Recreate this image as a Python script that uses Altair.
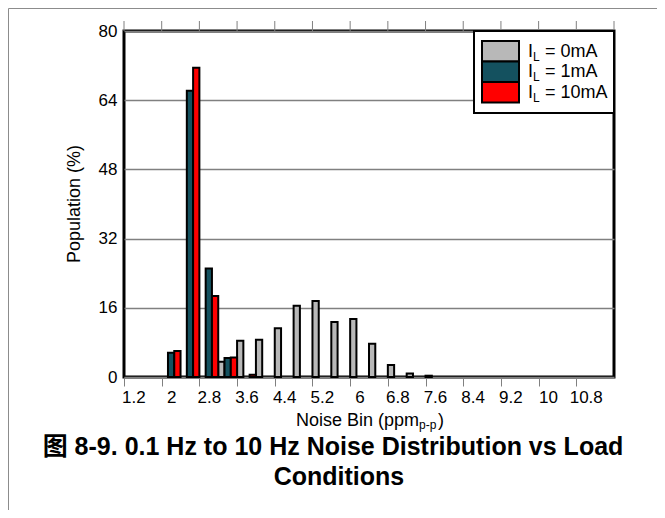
import altair as alt
import pandas as pd

FONT = "Liberation Sans, Arial, Noto Sans CJK SC"

# ---- data ----
bins = [1.2, 1.6, 2.0, 2.4, 2.8, 3.2, 3.6, 4.0, 4.4, 4.8, 5.2, 5.6, 6.0,
        6.4, 6.8, 7.2, 7.6, 8.0, 8.4, 8.8, 9.2, 9.6, 10.0, 10.4, 10.8, 11.2]
series = ["0mA", "1mA", "10mA"]
colors = ["#B8B8B8", "#14515F", "#FF0000"]
pop_0mA = [0, 0, 0, 0, 0, 3.5, 8.4, 8.6, 11.3, 16.5, 17.6, 12.7, 13.4,
           7.7, 2.8, 0.8, 0.3, 0, 0, 0, 0, 0, 0, 0, 0, 0]
pop_1mA = [0, 0, 5.6, 66.2, 25.1, 4.4, 0, 0, 0, 0, 0, 0, 0,
           0, 0, 0, 0, 0, 0, 0, 0, 0, 0, 0, 0, 0]
pop_10mA = [0, 0, 6.0, 71.5, 18.7, 4.5, 0.5, 0, 0, 0, 0, 0, 0,
            0, 0, 0, 0, 0, 0, 0, 0, 0, 0, 0, 0, 0]
y_ticks = [0, 16, 32, 48, 64, 80]

# ---- table built from the arrays ----
step = bins[1] - bins[0]
rows = []
for si, (name, vals) in enumerate(zip(series, [pop_0mA, pop_1mA, pop_10mA])):
    for b, v in zip(bins, vals):
        if v > 0:
            x0 = b - step / 2 + si * step / 3
            rows.append({"bin": b, "series": name, "value": v,
                         "x0": x0, "x1": x0 + step / 3})
df = pd.DataFrame(rows)

lo = bins[0] - step / 2
hi = bins[-1] + step / 2
x_ticks = [round(b - step / 2, 2) for b in bins[::2]] + [round(hi, 2)]

xscale = alt.Scale(domain=[lo, hi], nice=False, zero=False)
yscale = alt.Scale(domain=[0, 80], nice=False)

W, H = 490, 346
band_px = W / len(bins)

xaxis = alt.Axis(
    values=x_ticks,
    labelExpr="datum.value > 11 ? '' : format(datum.value + 0.2, '.1~f')",
    labelOffset=band_px / 2, tickSize=9, tickColor="#808080", tickWidth=1,
    domain=False, grid=False, title=None, labelFontSize=17,
    labelColor="black", labelPadding=3, labelFont=FONT,
    labelOverlap=False, labelFlush=False, labelBound=False)
yaxis = alt.Axis(
    values=y_ticks, grid=True, gridColor="#808080", gridWidth=1.5,
    ticks=False, domain=False, title=None, labelFontSize=17,
    labelColor="black", labelPadding=7, labelFont=FONT)

bars = alt.Chart(df).mark_bar(stroke="black", strokeWidth=2).encode(
    x=alt.X("x0:Q", scale=xscale, axis=xaxis),
    x2="x1:Q",
    y=alt.Y("value:Q", scale=yscale, axis=yaxis),
    y2=alt.datum(0),
    color=alt.Color("series:N", scale=alt.Scale(domain=series, range=colors),
                    legend=None),
)

top_ticks = alt.Chart(pd.DataFrame({"t": x_ticks})).mark_rule(
    color="#808080", strokeWidth=1).encode(
    x=alt.X("t:Q", scale=xscale, axis=xaxis),
    y=alt.value(-10), y2=alt.value(0))

one = alt.Data(values=[{"k": 1}])

outer = alt.Chart(one).mark_rect(fillOpacity=0, stroke="#8c8c8c",
                                 strokeWidth=1).encode(
    x=alt.value(-115.5), x2=alt.value(540), y=alt.value(-22.5), y2=alt.value(520))

layers = [outer, bars, top_ticks]

# legend box
layers.append(alt.Chart(one).mark_rect(fill="white", stroke="black",
                                       strokeWidth=2).encode(
    x=alt.value(350), x2=alt.value(490), y=alt.value(0), y2=alt.value(82)))
for i, (name, col) in enumerate(zip(series, colors)):
    y0 = 10 + 20.5 * i
    layers.append(alt.Chart(one).mark_rect(fill=col, stroke="black",
                                           strokeWidth=2).encode(
        x=alt.value(358), x2=alt.value(395), y=alt.value(y0),
        y2=alt.value(y0 + 20.5)))
    yc = y0 + 10.5
    layers.append(alt.Chart(one).mark_text(
        text="I", font=FONT, fontSize=18, align="left", baseline="middle",
        color="black").encode(x=alt.value(404), y=alt.value(yc)))
    layers.append(alt.Chart(one).mark_text(
        text="L", font=FONT, fontSize=12, align="left", baseline="middle",
        color="black").encode(x=alt.value(409), y=alt.value(yc + 5)))
    layers.append(alt.Chart(one).mark_text(
        text="= " + name, font=FONT, fontSize=18, align="left",
        baseline="middle", color="black").encode(
        x=alt.value(421), y=alt.value(yc)))

# y title
layers.append(alt.Chart(one).mark_text(
    text="Population (%)", font=FONT, fontSize=18, angle=270, align="center",
    baseline="middle", color="black").encode(x=alt.value(-49), y=alt.value(173)))

# x title with subscript
layers.append(alt.Chart(one).mark_text(
    text="Noise Bin (ppm", font=FONT, fontSize=18, align="left",
    baseline="middle", color="black").encode(x=alt.value(172), y=alt.value(390)))
layers.append(alt.Chart(one).mark_text(
    text="p-p", font=FONT, fontSize=12, align="left",
    baseline="middle", color="black").encode(x=alt.value(295), y=alt.value(394)))
layers.append(alt.Chart(one).mark_text(
    text=")", font=FONT, fontSize=18, align="left",
    baseline="middle", color="black").encode(x=alt.value(314), y=alt.value(390)))

# caption
layers.append(alt.Chart(one).mark_text(
    text="图 8-9. 0.1 Hz to 10 Hz Noise Distribution vs Load", font=FONT,
    fontSize=25, fontWeight="bold", align="center", baseline="middle",
    color="black").encode(x=alt.value(209), y=alt.value(416)))
layers.append(alt.Chart(one).mark_text(
    text="Conditions", font=FONT, fontSize=25, fontWeight="bold",
    align="center", baseline="middle", color="black").encode(
    x=alt.value(215), y=alt.value(446)))

chart = alt.layer(*layers).properties(
    width=W, height=H,
    padding={"left": 116, "top": 23, "right": 43, "bottom": 133},
    autosize=alt.AutoSizeParams(type="none"),
).configure(font=FONT).configure_view(stroke="black", strokeWidth=3)

chart.save("out.html", embed_options={"renderer": "svg", "actions": False})
